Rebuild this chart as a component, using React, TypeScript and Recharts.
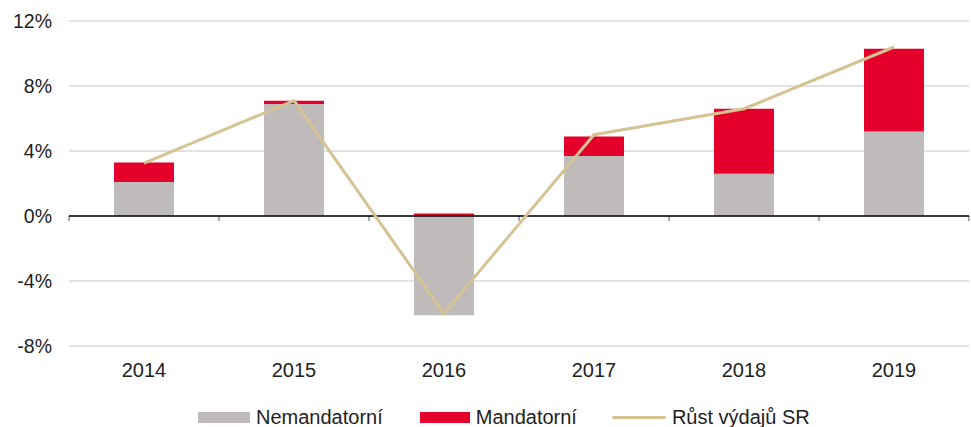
import React from 'react';
import { ComposedChart, Bar, Line, XAxis, YAxis, CartesianGrid, ReferenceLine, Legend } from 'recharts';

const years = ['2014', '2015', '2016', '2017', '2018', '2019'];
const nemandatorni = [2.1, 6.9, -6.1, 3.7, 2.6, 5.2];
const mandatorni = [1.2, 0.2, 0.15, 1.2, 4.0, 5.1];
const rust = [3.25, 7.1, -6.0, 5.0, 6.6, 10.4];
const yTicks = [-8, -4, 0, 4, 8, 12];

const data = years.map((y, i) => ({ year: y, nem: nemandatorni[i], man: mandatorni[i], rust: rust[i] }));

const GRAY = '#bfbbba';
const RED = '#e4002b';
const BEIGE = '#d6c393';
const FONT = 'Liberation Sans, Arial, sans-serif';

const AxisZero = (props: any) => {
  const { x1, x2, y1 } = props;
  const n = years.length;
  const step = (x2 - x1) / n;
  const ticks = [];
  for (let i = 0; i <= n; i++) {
    const tx = x1 + step * i;
    ticks.push(<line key={i} x1={tx} x2={tx} y1={y1} y2={y1 + 5} stroke="#555" strokeWidth={1} />);
  }
  return (
    <g>
      {ticks}
      <line x1={x1} x2={x2} y1={y1} y2={y1} stroke="#000" strokeWidth={1.3} />
    </g>
  );
};

const LegendContent = () => {
  const items = [
    { label: 'Nemandatorní', type: 'rect', color: GRAY, w: 52, gap: 37 },
    { label: 'Mandatorní', type: 'rect', color: RED, w: 50, gap: 35 },
    { label: 'Růst výdajů SR', type: 'line', color: BEIGE, w: 54, gap: 0 },
  ];
  return (
    <div style={{ display: 'flex', justifyContent: 'flex-start', alignItems: 'center', fontFamily: FONT, fontSize: 20, color: '#222', paddingTop: 10, paddingLeft: 198, lineHeight: '23px' }}>
      {items.map((it, i) => (
        <div key={i} style={{ display: 'flex', alignItems: 'center', marginRight: it.gap }}>
          {it.type === 'rect' ? (
            <div style={{ width: it.w, height: 11, background: it.color, marginRight: 6 }} />
          ) : (
            <div style={{ width: it.w, height: 3.5, background: it.color, marginRight: 6, borderRadius: 2 }} />
          )}
          <span>{it.label}</span>
        </div>
      ))}
    </div>
  );
};

export default function App() {
  return (
    <div style={{ position: 'absolute', left: 0, top: 0, background: '#fff' }}>
      <ComposedChart
        width={971}
        height={427}
        data={data}
        stackOffset="sign"
        margin={{ top: 21, right: 2, left: 0, bottom: 0 }}
        barCategoryGap="30%"
      >
        <CartesianGrid vertical={false} stroke="#d9d9d9" strokeWidth={1.5} />
        <XAxis
          dataKey="year"
          height={50}
          axisLine={false}
          tickLine={false}
          tickSize={0}
          tickMargin={17}
          tick={{ fill: '#222', fontSize: 20, fontFamily: FONT }}
        />
        <YAxis
          width={69}
          domain={[-8, 12]}
          ticks={yTicks}
          axisLine={false}
          tickLine={false}
          tickSize={0}
          tickMargin={17}
          tickFormatter={(v: number) => `${v}%`}
          tick={{ fill: '#222', fontSize: 19.5, fontFamily: FONT }}
        />
        <Bar dataKey="nem" stackId="a" fill={GRAY} isAnimationActive={false} />
        <Bar dataKey="man" stackId="a" fill={RED} isAnimationActive={false} />
        <ReferenceLine y={0} shape={<AxisZero />} />
        <Line dataKey="rust" type="linear" stroke={BEIGE} strokeWidth={3} dot={false} activeDot={false} isAnimationActive={false} />
        <Legend verticalAlign="bottom" content={<LegendContent />} height={31} />
      </ComposedChart>
    </div>
  );
}
